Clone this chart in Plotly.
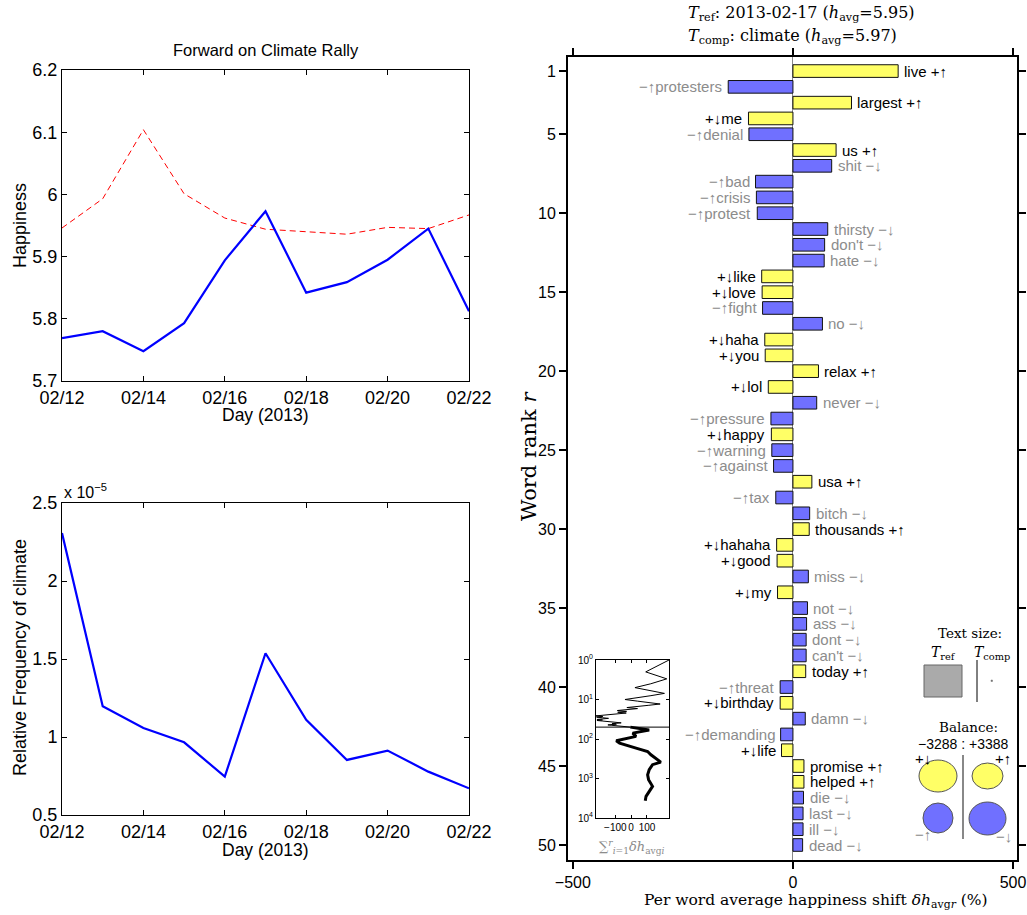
import numpy as np
import plotly.graph_objects as go

W, H = 1027, 915

# ---- daily time series (Feb 12-22, 2013) ----
days = ["2013-02-12", "2013-02-13", "2013-02-14", "2013-02-15", "2013-02-16", "2013-02-17",
        "2013-02-18", "2013-02-19", "2013-02-20", "2013-02-21", "2013-02-22"]
happiness_climate = [5.769, 5.780, 5.748, 5.793, 5.894, 5.973, 5.842, 5.859, 5.895, 5.945, 5.812]
happiness_all = [5.946, 5.993, 6.104, 6.001, 5.962, 5.944, 5.940, 5.936, 5.947, 5.945, 5.967]
freq_climate_e5 = [2.307, 1.197, 1.058, 0.966, 0.746, 1.537, 1.110, 0.853, 0.913, 0.778, 0.671]

happiness_ticks = [5.7, 5.8, 5.9, 6.0, 6.1, 6.2]
happiness_ticktext = ["5.7", "5.8", "5.9", "6", "6.1", "6.2"]
freq_ticks = [0.5, 1.0, 1.5, 2.0, 2.5]
freq_ticktext = ["0.5", "1", "1.5", "2", "2.5"]

# ---- word shift (top 50 words) ----
words = ["live", "protesters", "largest", "me", "denial", "us", "shit", "bad", "crisis", "protest",
         "thirsty", "don't", "hate", "like", "love", "fight", "no", "haha", "you", "relax",
         "lol", "never", "pressure", "happy", "warning", "against", "usa", "tax", "bitch", "thousands",
         "hahaha", "good", "miss", "my", "not", "ass", "dont", "can't", "today", "threat",
         "birthday", "damn", "demanding", "life", "promise", "helped", "die", "last", "ill", "dead"]
kinds = ["+↑", "−↑", "+↑", "+↓", "−↑", "+↑", "−↓", "−↑", "−↑", "−↑",
         "−↓", "−↓", "−↓", "+↓", "+↓", "−↑", "−↓", "+↓", "+↓", "+↑",
         "+↓", "−↓", "−↑", "+↓", "−↑", "−↑", "+↑", "−↑", "−↓", "+↑",
         "+↓", "+↓", "−↓", "+↓", "−↓", "−↓", "−↓", "−↓", "+↑", "−↑",
         "+↓", "−↓", "−↑", "+↓", "+↑", "+↑", "−↓", "−↓", "−↓", "−↓"]
shifts = [239, -147, 133, -101, -100, 98, 88, -85, -83, -81,
          79, 72, 71, -71, -70, -69, 67, -64, -63, 58,
          -56, 54, -50, -49, -48, -44, 43, -39, 38, 37,
          -37, -36, 35, -35, 33, 31, 30, 30, 29, -29,
          -29, 28, -28, -26, 25, 25, 24, 23, 23, 22]
ranks = list(range(1, len(words) + 1))
rank_ticks = [1, 5, 10, 15, 20, 25, 30, 35, 40, 45, 50]
shift_ticks = [-500, 0, 500]

# cumulative shift beyond the top 50 words
tail_ranks = [59, 71, 86, 111, 127, 170, 207, 251, 303, 385, 447, 600, 804, 1070, 1580, 2130, 2830, 3640]
tail_cumsum = [114, 10, 31, -94, -73, 31, 104, 125, 156, 187, 135, 114, 104, 110, 135, 114, 94, 89]

balance_text = "−3288 : +3388"

YELLOW = "#ffff66"
BLUE = "#7070ff"
GREY_TXT = "#8c8c8c"
SANS = "Liberation Sans, DejaVu Sans, Arial, sans-serif"
SERIF = "DejaVu Serif, serif"


def px(x):
    return x / W


def py(y):
    return 1 - y / H


fig = go.Figure()

# happiness time series
fig.add_trace(go.Scatter(x=days, y=happiness_all, mode="lines",
                         line=dict(color="#ff0000", width=1, dash="6px,4px"),
                         xaxis="x", yaxis="y"))
fig.add_trace(go.Scatter(x=days, y=happiness_climate, mode="lines",
                         line=dict(color="#0000ff", width=2.2),
                         xaxis="x", yaxis="y"))
# relative frequency of "climate"
fig.add_trace(go.Scatter(x=days, y=freq_climate_e5, mode="lines",
                         line=dict(color="#0000ff", width=2.2),
                         xaxis="x2", yaxis="y2"))

# word shift bars
bar_colors = [YELLOW if k.startswith("+") else BLUE for k in kinds]
fig.add_trace(go.Bar(x=shifts, y=ranks, orientation="h", width=0.8,
                     marker=dict(color=bar_colors, line=dict(color="#111111", width=1)),
                     xaxis="x3", yaxis="y3"))

# cumulative shift inset
cum = np.cumsum(shifts)
fig.add_trace(go.Scatter(x=cum, y=ranks, mode="lines",
                         line=dict(color="black", width=1), xaxis="x4", yaxis="y4"))
fig.add_trace(go.Scatter(x=[cum[-1]] + tail_cumsum, y=[ranks[-1]] + tail_ranks, mode="lines",
                         line=dict(color="black", width=3), xaxis="x4", yaxis="y4"))
inset_min = float(min(cum.min(), min(tail_cumsum)))
inset_max = float(max(cum.max(), max(tail_cumsum)))
fig.add_trace(go.Scatter(x=[inset_min, inset_max], y=[ranks[-1], ranks[-1]], mode="lines",
                         line=dict(color="black", width=1), xaxis="x4", yaxis="y4"))

annotations = []

# word labels next to each bar
for r, w, k, v in zip(ranks, words, kinds, shifts):
    color = "black" if k.startswith("+") else GREY_TXT
    if v > 0:
        text, anchor, shift = f"{w} {k}", "left", 4
    else:
        text, anchor, shift = f"{k}{w}", "right", -4
    annotations.append(dict(x=v, y=r, xref="x3", yref="y3", text=text, showarrow=False,
                            xanchor=anchor, yanchor="middle", xshift=shift,
                            font=dict(family=SANS, size=15, color=color)))


def note(text, x, y, size, family=SANS, color="black", xanchor="center", yanchor="middle", angle=0):
    annotations.append(dict(x=px(x), y=py(y), xref="paper", yref="paper", text=text,
                            showarrow=False, xanchor=xanchor, yanchor=yanchor, textangle=angle,
                            font=dict(family=family, size=size, color=color)))


# left panel texts
note("Forward on Climate Rally", 265.5, 50, 16.5)
note("Happiness", 20, 226, 18, angle=-90)
note("Day (2013)", 265.5, 415, 17.5)
note("Relative Frequency of climate", 20, 658, 18, angle=-90)
note("Day (2013)", 265.5, 850, 17.5)
note("x 10<sup>−5</sup>", 62, 491, 16, xanchor="left")

# word shift titles
note("<i>T</i><sub>ref</sub>: 2013-02-17 (<i>h</i><sub>avg</sub>=5.95)", 686, 14, 16, family=SERIF, xanchor="left")
note("<i>T</i><sub>comp</sub>: climate (<i>h</i><sub>avg</sub>=5.97)", 686, 37, 16, family=SERIF, xanchor="left")
note("Word rank <i>r</i>", 529, 456, 21, family=SERIF, angle=-90)
note("Per word average happiness shift <i>δh</i><sub>avg<i>r</i></sub> (%)", 816, 901, 15.5, family=SERIF)
note("∑<sup><i>r</i></sup><sub><i>i</i>=1</sub><i>δh</i><sub>avg<i>i</i></sub>", 632, 847, 13,
     family=SERIF, color=GREY_TXT)

# text-size and balance keys
note("Text size:", 970, 633, 13.5, family=SERIF)
note("<i>T</i><sub>ref</sub>", 943, 653, 14, family=SERIF)
note("<i>T</i><sub>comp</sub>", 992, 653, 14, family=SERIF)
note("Balance:", 968, 727, 13.5, family=SERIF)
note(balance_text, 963, 744, 14)
note("+↓", 923, 758, 15)
note("+↑", 1003, 758, 15)
note("−↑", 923, 834, 15, color=GREY_TXT)
note("−↓", 1004, 836, 15, color=GREY_TXT)

shapes = []


def box(kind, x0, y0, x1, y1, fill, line_color, line_width=1):
    shapes.append(dict(type=kind, xref="paper", yref="paper", x0=px(x0), x1=px(x1),
                       y0=py(y1), y1=py(y0), fillcolor=fill,
                       line=dict(color=line_color, width=line_width)))


def vline(x, y0, y1, color, width):
    shapes.append(dict(type="line", xref="paper", yref="paper", x0=px(x), x1=px(x),
                       y0=py(y1), y1=py(y0), line=dict(color=color, width=width)))


box("rect", 924, 665, 962, 697, "#aaaaaa", "#666666")
vline(977, 660, 702, "black", 1)
box("rect", 991, 680, 992.5, 681.5, "#777777", "#777777", 0.5)
vline(963, 755, 839, "#888888", 2)
box("circle", 919, 760, 957, 792, YELLOW, "#555555")
box("circle", 972, 763, 1003, 789, YELLOW, "#555555")
box("circle", 923, 803, 953, 833, BLUE, "#555555")
box("circle", 969, 802, 1006, 835, BLUE, "#555555")

matlab_axis = dict(showline=True, linecolor="black", linewidth=1, mirror="allticks",
                   ticks="inside", ticklen=5, tickcolor="black", showgrid=False, zeroline=False,
                   automargin=False, tickfont=dict(family=SANS, size=18, color="black"))

date_axis = dict(type="date", range=[days[0], days[-1]], dtick=2 * 86400000, tick0=days[0],
                 tickformat="%m/%d", **matlab_axis)

fig.update_layout(
    width=W, height=H, margin=dict(l=0, r=0, t=0, b=0, autoexpand=False),
    paper_bgcolor="white", plot_bgcolor="white", showlegend=False,
    font=dict(family=SANS, color="black"),
    xaxis=dict(domain=[px(62), px(469)], anchor="y", **date_axis),
    yaxis=dict(domain=[py(381), py(70)], anchor="x", range=[5.7, 6.2],
               tickvals=happiness_ticks, ticktext=happiness_ticktext, **matlab_axis),
    xaxis2=dict(domain=[px(62), px(469)], anchor="y2", **date_axis),
    yaxis2=dict(domain=[py(815), py(503)], anchor="x2", range=[0.5, 2.5],
                tickvals=freq_ticks, ticktext=freq_ticktext, **matlab_axis),
    xaxis3=dict(domain=[px(568), px(1017)], anchor="y3", range=[-511, 509],
                tickvals=shift_ticks, showline=True, linecolor="black", linewidth=2,
                mirror="allticks", ticks="outside", ticklen=7, tickwidth=2, tickcolor="black",
                showgrid=False, zeroline=True, zerolinecolor="#888888", zerolinewidth=1,
                automargin=False, tickfont=dict(family=SANS, size=16, color="black")),
    yaxis3=dict(domain=[py(860), py(57)], anchor="x3", range=[50.95, 0.11],
                tickvals=rank_ticks, showline=True, linecolor="black", linewidth=2,
                mirror="allticks", ticks="outside", ticklen=7, tickwidth=2, tickcolor="black",
                showgrid=False, zeroline=False, automargin=False,
                tickfont=dict(family=SANS, size=16, color="black")),
    xaxis4=dict(domain=[px(596), px(669)], anchor="y4", range=[inset_min, inset_max],
                tickvals=[-100, 0, 100], tickangle=0, showline=True, linecolor="black",
                linewidth=1, mirror="allticks", ticks="inside", ticklen=3, tickcolor="black",
                showgrid=False, zeroline=False, automargin=False,
                tickfont=dict(family=SANS, size=10, color="black")),
    yaxis4=dict(domain=[py(818), py(660)], anchor="x4", type="log", range=[4, 0],
                tickvals=[1, 10, 100, 1000, 10000],
                ticktext=["10<sup>0</sup>", "10<sup>1</sup>", "10<sup>2</sup>", "10<sup>3</sup>",
                          "10<sup>4</sup>"],
                showline=True, linecolor="black", linewidth=1, mirror="allticks",
                ticks="inside", ticklen=3, tickcolor="black", showgrid=False, zeroline=False,
                automargin=False, tickfont=dict(family=SANS, size=10, color="black")),
    annotations=annotations,
    shapes=shapes,
)

fig.write_html("out.html")
